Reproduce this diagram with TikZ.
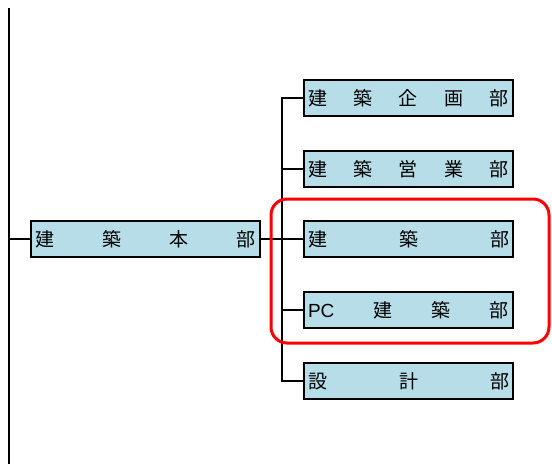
\documentclass[tikz,border=0pt]{standalone}
\usepackage{fontspec}
\newfontfamily\cjk{Noto Sans CJK JP}
\newfontfamily\lat{Liberation Sans}
\definecolor{boxfill}{RGB}{182,221,232}
\begin{document}
\begin{tikzpicture}[x=1pt,y=-1pt,
  org/.style={draw=black,line width=2pt,fill=boxfill,inner sep=0pt,anchor=north west,
    font=\cjk\fontsize{19}{19}\selectfont},
  conn/.style={line width=2pt},
  hl/.style={draw=red,line width=3pt,rounded corners=16pt}]
\useasboundingbox (0,0) rectangle (552,464);
\coordinate (top) at (9,8);
\coordinate (bot) at (9,464);
\draw[conn] (top) -- (bot);
\node[org,minimum width=229pt,minimum height=36pt] (main) at (30,220)
  {\hbox to 221pt{建\hfill 築\hfill 本\hfill 部}};
\node[org,minimum width=209pt,minimum height=36pt] (b1) at (303,79)
  {\hbox to 201pt{建\hfill 築\hfill 企\hfill 画\hfill 部}};
\node[org,minimum width=209pt,minimum height=36pt] (b2) at (303,150)
  {\hbox to 201pt{建\hfill 築\hfill 営\hfill 業\hfill 部}};
\node[org,minimum width=209pt,minimum height=36pt] (b3) at (303,220)
  {\hbox to 201pt{建\hfill 築\hfill 部}};
\node[org,minimum width=209pt,minimum height=36pt] (b4) at (303,291)
  {\hbox to 201pt{{\lat PC}\hfill 建\hfill 築\hfill 部}};
\node[org,minimum width=209pt,minimum height=36pt] (b5) at (303,362)
  {\hbox to 201pt{設\hfill 計\hfill 部}};
\draw[conn] (9,0 |- main.west) -- (main.west);
\coordinate (trunk) at (282,0);
\draw[conn] (main.east) -- (trunk |- main.east);
\draw[conn] (b1.west) -- (trunk |- b1.west) -- (trunk |- b5.west) -- (b5.west);
\draw[conn] (trunk |- b2.west) -- (b2.west);
\draw[conn] (trunk |- b3.west) -- (b3.west);
\draw[conn] (trunk |- b4.west) -- (b4.west);
\draw[hl] (271,199) rectangle (549,343);
\end{tikzpicture}
\end{document}
